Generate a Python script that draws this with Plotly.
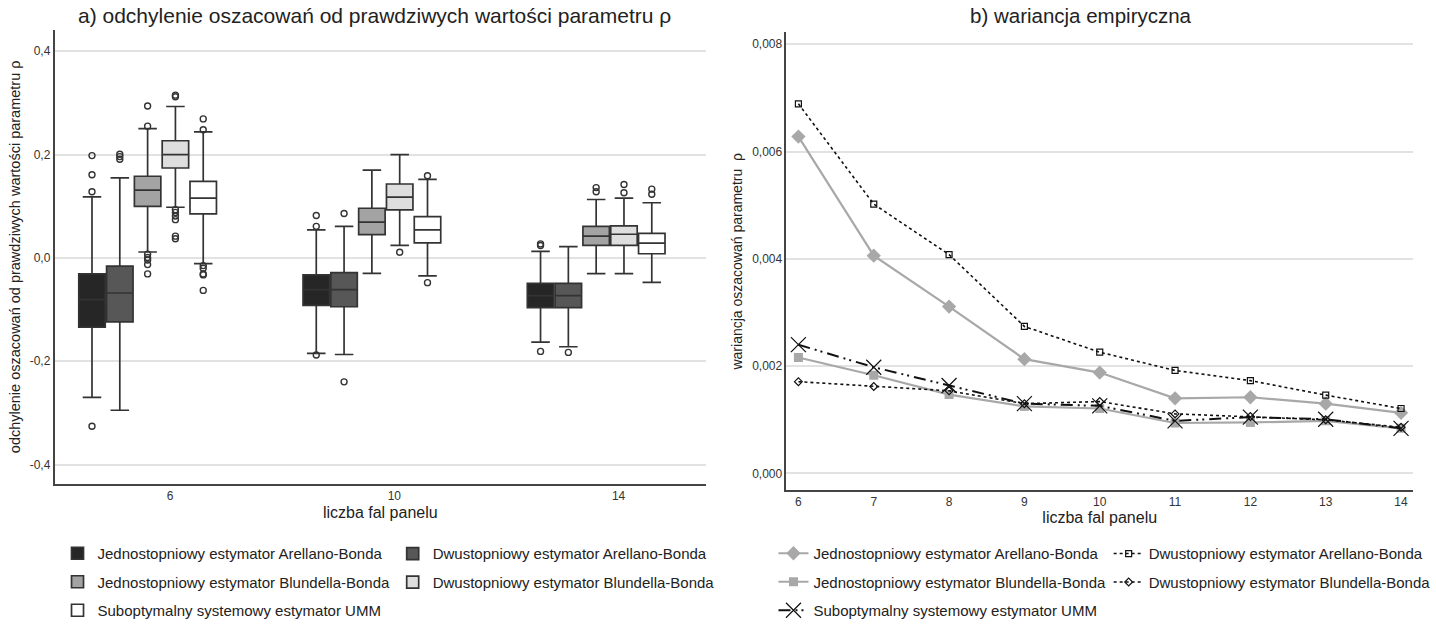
import plotly.graph_objects as go

# ---------------- DATA ----------------
waves_a = ["6", "10", "14"]
series_names = [
    "Jednostopniowy estymator Arellano-Bonda",
    "Dwustopniowy estymator Arellano-Bonda",
    "Jednostopniowy estymator Blundella-Bonda",
    "Dwustopniowy estymator Blundella-Bonda",
    "Suboptymalny systemowy estymator UMM",
]

# box statistics per series, per wave (6, 10, 14)
q1 = [
    [-0.134, -0.092, -0.0965],
    [-0.124, -0.0946, -0.0965],
    [0.0997, 0.045, 0.024],
    [0.174, 0.093, 0.024],
    [0.085, 0.029, 0.008],
]
median = [
    [-0.081, -0.0616, -0.073],
    [-0.068, -0.0616, -0.073],
    [0.131, 0.069, 0.042],
    [0.200, 0.1175, 0.0457],
    [0.1156, 0.054, 0.0286],
]
q3 = [
    [-0.031, -0.033, -0.0495],
    [-0.016, -0.0286, -0.0495],
    [0.158, 0.096, 0.061],
    [0.2267, 0.143, 0.062],
    [0.148, 0.080, 0.0476],
]
lower_whisker = [
    [-0.270, -0.185, -0.163],
    [-0.295, -0.187, -0.172],
    [0.0114, -0.030, -0.0305],
    [0.098, 0.024, -0.0305],
    [-0.011, -0.035, -0.0476],
]
upper_whisker = [
    [0.118, 0.054, 0.0127],
    [0.155, 0.061, 0.0216],
    [0.250, 0.170, 0.113],
    [0.293, 0.200, 0.1156],
    [0.244, 0.152, 0.1067],
]
outliers = [
    [[0.198, 0.161, 0.128, -0.326], [0.082, 0.061, -0.188], [0.027, 0.024, -0.181]],
    [[0.2006, 0.196, 0.191], [0.086, -0.240], [-0.183]],
    [[0.294, 0.255, 0.007, 0.0006, -0.004, -0.013, -0.031], [], [0.136, 0.128]],
    [[0.315, 0.312, 0.093, 0.088, 0.081, 0.074, 0.042, 0.037], [0.011], [0.142, 0.126]],
    [[0.269, 0.248, -0.015, -0.020, -0.031, -0.033, -0.063], [0.159, -0.048], [0.133, 0.123]],
]

waves_b = [6, 7, 8, 9, 10, 11, 12, 13, 14]
var_jedn_ab = [0.00628, 0.00406, 0.00311, 0.00213, 0.00188, 0.00140, 0.00142, 0.00130, 0.00113]
var_dwu_ab = [0.00689, 0.00502, 0.00408, 0.00274, 0.00226, 0.00192, 0.00173, 0.00146, 0.00121]
var_jedn_bb = [0.00216, 0.00183, 0.00147, 0.00125, 0.00121, 0.00094, 0.00095, 0.00098, 0.00084]
var_dwu_bb = [0.00171, 0.00162, 0.00154, 0.00130, 0.00134, 0.00111, 0.00106, 0.00100, 0.00086]
var_umm = [0.00240, 0.00198, 0.00164, 0.00130, 0.00126, 0.00098, 0.00105, 0.00101, 0.00084]

ytick_vals_a = [-0.4, -0.2, 0.0, 0.2, 0.4]
ytick_text_a = ["-0,4", "-0,2", "0,0", "0,2", "0,4"]
ytick_vals_b = [0.0, 0.002, 0.004, 0.006, 0.008]
ytick_text_b = ["0,000", "0,002", "0,004", "0,006", "0,008"]

# ---------------- STYLE ----------------
FONT = "Liberation Sans, Arial, sans-serif"
box_fills = ["#262626", "#575757", "#a3a3a3", "#dedede", "#ffffff"]
BOX_STEP = 0.124
BOX_W = 0.118
TICK_OFF = 0.1
W, H = 1436, 627

fig = go.Figure()

legend_a = ["legend", "legend2", "legend", "legend2", "legend"]
legend_b = ["legend3", "legend4", "legend3", "legend4", "legend3"]

for j, name in enumerate(series_names):
    xs = [i + (j - 2) * BOX_STEP for i in range(len(waves_a))]
    fig.add_trace(go.Box(
        x=xs, q1=q1[j], median=median[j], q3=q3[j],
        lowerfence=lower_whisker[j], upperfence=upper_whisker[j],
        name=name, width=BOX_W, whiskerwidth=0.7,
        fillcolor=box_fills[j], line=dict(color="#333333", width=1.7),
        boxpoints=False, xaxis="x", yaxis="y",
        legend=legend_a[j], legendgroup="a%d" % j, hoverinfo="skip",
    ))
for j, name in enumerate(series_names):
    ox, oy = [], []
    for i in range(len(waves_a)):
        for v in outliers[j][i]:
            ox.append(i + (j - 2) * BOX_STEP)
            oy.append(v)
    fig.add_trace(go.Scatter(
        x=ox, y=oy, mode="markers", showlegend=False, xaxis="x", yaxis="y",
        marker=dict(symbol="circle-open", size=6, color="#333333", line=dict(width=1.4)),
        hoverinfo="skip",
    ))

gray = "#a8a8a8"
line_specs = [
    (var_jedn_ab, dict(color=gray, width=2.2, dash="solid"), dict(symbol="diamond", size=11, color=gray)),
    (var_dwu_ab, dict(color="#111111", width=1.6, dash="dot"), dict(symbol="square-open", size=6, color="#111111", line=dict(width=1.2))),
    (var_jedn_bb, dict(color=gray, width=2.2, dash="solid"), dict(symbol="square", size=9, color=gray)),
    (var_dwu_bb, dict(color="#111111", width=1.6, dash="dot"), dict(symbol="diamond-open", size=6, color="#111111", line=dict(width=1.2))),
    (var_umm, dict(color="#111111", width=2.0, dash="12px,5px,2px,4px,2px,5px"), dict(symbol="x-thin-open", size=15, color="#111111", line=dict(width=1.2))),
]
for j, (vals, ln, mk) in enumerate(line_specs):
    fig.add_trace(go.Scatter(
        x=waves_b, y=vals, mode="lines+markers", name=series_names[j],
        line=ln, marker=mk, xaxis="x2", yaxis="y2",
        legend=legend_b[j], legendgroup="b%d" % j, hoverinfo="skip",
    ))

axis_common = dict(showline=True, linecolor="#444444", linewidth=1.5, ticks="",
                   tickfont=dict(family=FONT, size=12, color="#333333"), zeroline=False)

leg_common = dict(orientation="v", xanchor="left", yanchor="top", bgcolor="rgba(0,0,0,0)",
                  font=dict(family=FONT, size=15, color="#222222"), tracegroupgap=6,
                  itemwidth=30)

fig.update_layout(
    width=W, height=H, paper_bgcolor="white", plot_bgcolor="white",
    margin=dict(l=0, r=0, t=0, b=0), boxmode="overlay", separators=", ",
    font=dict(family=FONT, color="#222222"),
    xaxis=dict(domain=[55 / W, 712 / W], range=[-0.415, 2.49],
               tickvals=[i + TICK_OFF for i in range(len(waves_a))], ticktext=waves_a,
               showgrid=False, anchor="y",
               title=dict(text="liczba fal panelu", font=dict(family=FONT, size=16), standoff=4),
               **axis_common),
    yaxis=dict(domain=[1 - 492 / H, 1 - 30 / H], range=[-0.438, 0.442],
               tickvals=ytick_vals_a, ticktext=ytick_text_a, showgrid=True, gridcolor="#e2e2e2",
               gridwidth=1.5, anchor="x",
               title=dict(text="odchylenie oszacowań od prawdziwych wartości parametru ρ",
                          font=dict(family=FONT, size=14.5), standoff=6),
               **axis_common),
    xaxis2=dict(domain=[793 / W, 1425 / W], range=[5.84, 14.16], tickvals=waves_b,
                showgrid=False, anchor="y2",
                title=dict(text="liczba fal panelu", font=dict(family=FONT, size=16), standoff=2),
                **axis_common),
    yaxis2=dict(domain=[1 - 498 / H, 1 - 33 / H], range=[-0.00031, 0.00822],
                tickvals=ytick_vals_b, ticktext=ytick_text_b, showgrid=True, gridcolor="#e2e2e2",
                gridwidth=1.5, anchor="x2",
                title=dict(text="wariancja oszacowań parametru  ρ",
                           font=dict(family=FONT, size=14), standoff=6),
                **axis_common),
    legend=dict(x=58 / W, y=1 - 546 / H, **leg_common),
    legend2=dict(x=396 / W, y=1 - 546 / H, **leg_common),
    legend3=dict(x=780 / W, y=1 - 546 / H, **leg_common),
    legend4=dict(x=1118 / W, y=1 - 546 / H, **leg_common),
    annotations=[
        dict(text="a) odchylenie oszacowań od prawdziwych wartości parametru ρ", x=378 / W, y=1 - 16 / H,
             xref="paper", yref="paper", showarrow=False, xanchor="center", yanchor="middle",
             font=dict(family=FONT, size=21, color="#222222")),
        dict(text="b) wariancja empiryczna", x=1090 / W, y=1 - 16 / H,
             xref="paper", yref="paper", showarrow=False, xanchor="center", yanchor="middle",
             font=dict(family=FONT, size=20.5, color="#222222")),
    ],
)

fig.write_html("out.html")
